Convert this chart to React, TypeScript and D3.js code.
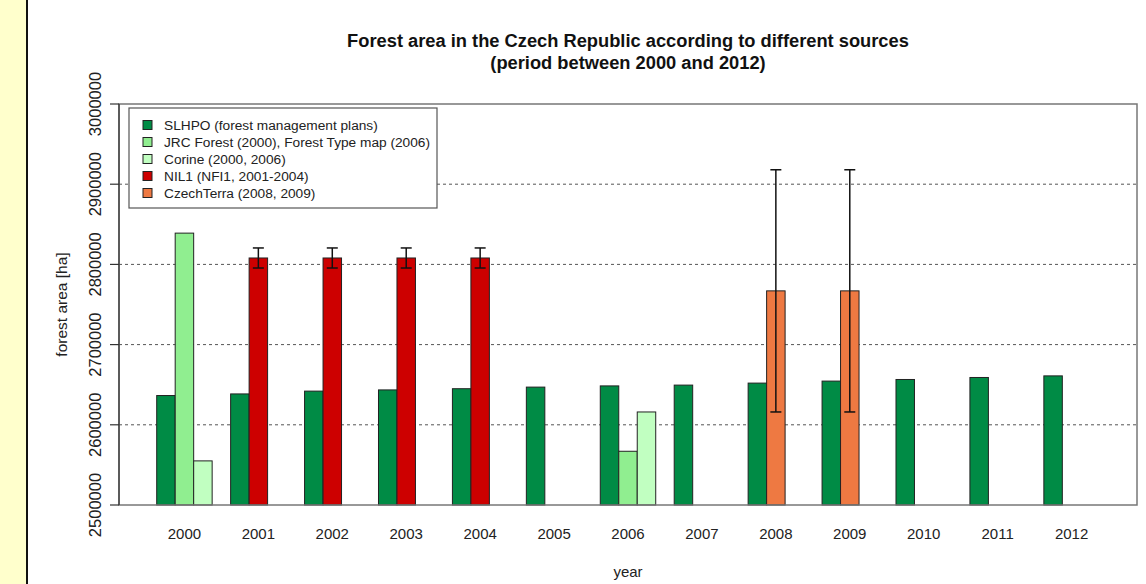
import { useEffect, useRef } from "react";
import * as d3 from "d3";

const years = ["2000", "2001", "2002", "2003", "2004", "2005", "2006", "2007", "2008", "2009", "2010", "2011", "2012"];

const slhpo = [2636500, 2638500, 2642000, 2643500, 2645000, 2647000, 2648500, 2649500, 2652000, 2654500, 2656500, 2659000, 2661000];
const jrc = [2839000, null, null, null, null, null, 2567000, null, null, null, null, null, null];
const corine = [2555000, null, null, null, null, null, 2616000, null, null, null, null, null, null];
const nil1 = [null, 2808000, 2808000, 2808000, 2808000, null, null, null, null, null, null, null, null];
const nil1Err = [null, 12500, 12500, 12500, 12500, null, null, null, null, null, null, null, null];
const czechTerra = [null, null, null, null, null, null, null, null, 2767000, 2767000, null, null, null];
const czechTerraErr = [null, null, null, null, null, null, null, null, 151000, 151000, null, null, null];

const yTicks = [2500000, 2600000, 2700000, 2800000, 2900000, 3000000];
const gridTicks = [2600000, 2700000, 2800000, 2900000];

const legendLabels = [
	"SLHPO (forest management plans)",
	"JRC Forest (2000), Forest Type map (2006)",
	"Corine (2000, 2006)",
	"NIL1 (NFI1, 2001-2004)",
	"CzechTerra (2008, 2009)",
];

const colors = ["#008b45", "#90ee90", "#c1ffc1", "#cd0000", "#ee7942"];

const App = () => {
	const svgRef = useRef<SVGSVGElement>(null);

	useEffect(() => {
		if (!svgRef.current) return;
		const W = 1146;
		const H = 584;
		const box = { left: 119, right: 1137, top: 104, bottom: 505 };
		const font = "'Liberation Sans', Arial, sans-serif";

		const svg = d3.select(svgRef.current).attr("width", W).attr("height", H);
		svg.selectAll("*").remove();

		// yellow strip on the left
		svg.append("rect").attr("x", 0).attr("y", 0).attr("width", 26).attr("height", H).attr("fill", "#ffffcc");
		svg.append("rect").attr("x", 26).attr("y", 0).attr("width", 2).attr("height", H).attr("fill", "#111");
		svg.append("rect").attr("x", 28).attr("y", 0).attr("width", W - 28).attr("height", H).attr("fill", "#fff");

		const x = d3.scaleBand<string>().domain(years).range([box.left, box.right]).paddingInner(0.25).paddingOuter(0.51);
		const slot = d3.scaleBand<number>().domain([0, 1, 2]).range([0, x.bandwidth()]);
		const y = d3.scaleLinear().domain([2500000, 3000000]).range([box.bottom, box.top]);

		// gridlines
		svg
			.append("g")
			.selectAll("line")
			.data(gridTicks)
			.join("line")
			.attr("x1", box.left)
			.attr("x2", box.right)
			.attr("y1", (d) => y(d))
			.attr("y2", (d) => y(d))
			.attr("stroke", "#555")
			.attr("stroke-width", 1)
			.attr("stroke-dasharray", "3,3");

		// bars
		const series = [
			{ values: slhpo, slot: 0, color: colors[0] },
			{ values: jrc, slot: 1, color: colors[1] },
			{ values: corine, slot: 2, color: colors[2] },
			{ values: nil1, slot: 1, color: colors[3] },
			{ values: czechTerra, slot: 1, color: colors[4] },
		];
		series.forEach((s) => {
			const pts = s.values.map((v, i) => ({ year: years[i], v })).filter((d) => d.v !== null) as { year: string; v: number }[];
			svg
				.append("g")
				.selectAll("rect")
				.data(pts)
				.join("rect")
				.attr("x", (d) => x(d.year)! + slot(s.slot)!)
				.attr("width", slot.bandwidth())
				.attr("y", (d) => y(d.v))
				.attr("height", (d) => y(2500000) - y(d.v))
				.attr("fill", s.color)
				.attr("stroke", "#222")
				.attr("stroke-width", 1);
		});

		// error bars
		const errs = [
			{ values: nil1, err: nil1Err },
			{ values: czechTerra, err: czechTerraErr },
		];
		errs.forEach((e) => {
			const pts = e.values
				.map((v, i) => ({ year: years[i], v, err: e.err[i] }))
				.filter((d) => d.v !== null) as { year: string; v: number; err: number }[];
			const g = svg.append("g").attr("stroke", "#111").attr("stroke-width", 1.5);
			pts.forEach((d) => {
				const cx = x(d.year)! + slot(1)! + slot.bandwidth() / 2;
				const y1 = y(d.v + d.err);
				const y0 = y(d.v - d.err);
				g.append("line").attr("x1", cx).attr("x2", cx).attr("y1", y1).attr("y2", y0);
				g.append("line").attr("x1", cx - 5.5).attr("x2", cx + 5.5).attr("y1", y1).attr("y2", y1);
				g.append("line").attr("x1", cx - 5.5).attr("x2", cx + 5.5).attr("y1", y0).attr("y2", y0);
			});
		});

		// plot box
		svg
			.append("rect")
			.attr("x", box.left)
			.attr("y", box.top)
			.attr("width", box.right - box.left)
			.attr("height", box.bottom - box.top)
			.attr("fill", "none")
			.attr("stroke", "#777")
			.attr("stroke-width", 1.5);

		// y axis
		const yAxis = svg.append("g");
		yAxis
			.append("line")
			.attr("x1", box.left)
			.attr("x2", box.left)
			.attr("y1", y(3000000))
			.attr("y2", y(2500000))
			.attr("stroke", "#333")
			.attr("stroke-width", 1.2);
		yAxis
			.selectAll("line.tick")
			.data(yTicks)
			.join("line")
			.attr("class", "tick")
			.attr("x1", box.left - 9)
			.attr("x2", box.left)
			.attr("y1", (d) => y(d))
			.attr("y2", (d) => y(d))
			.attr("stroke", "#333")
			.attr("stroke-width", 1.2);
		yAxis
			.selectAll("text")
			.data(yTicks)
			.join("text")
			.attr("transform", (d) => `translate(100.5, ${y(d)}) rotate(-90)`)
			.attr("text-anchor", "middle")
			.style("font-family", font)
			.style("font-size", "16.5px")
			.attr("fill", "#222")
			.text((d) => String(d));

		// x labels
		svg
			.append("g")
			.selectAll("text")
			.data(years)
			.join("text")
			.attr("x", (d) => x(d)! + x.bandwidth() / 2)
			.attr("y", 539)
			.attr("text-anchor", "middle")
			.style("font-family", font)
			.style("font-size", "15px")
			.attr("fill", "#222")
			.text((d) => d);

		// axis titles
		svg
			.append("text")
			.attr("x", (box.left + box.right) / 2)
			.attr("y", 577)
			.attr("text-anchor", "middle")
			.style("font-family", font)
			.style("font-size", "15px")
			.attr("fill", "#222")
			.text("year");
		svg
			.append("text")
			.attr("transform", `translate(67, ${(box.top + box.bottom) / 2}) rotate(-90)`)
			.attr("text-anchor", "middle")
			.style("font-family", font)
			.style("font-size", "15.5px")
			.attr("fill", "#222")
			.text("forest area [ha]");

		// title
		const cxTitle = (box.left + box.right) / 2;
		["Forest area in the Czech Republic according to different sources", "(period between 2000 and 2012)"].forEach((t, i) => {
			svg
				.append("text")
				.attr("x", cxTitle)
				.attr("y", 47 + i * 22)
				.attr("text-anchor", "middle")
				.style("font-family", font)
				.style("font-size", "18.3px")
				.style("font-weight", "bold")
				.attr("fill", "#111")
				.text(t);
		});

		// legend
		const lg = svg.append("g");
		lg.append("rect")
			.attr("x", 129)
			.attr("y", 108)
			.attr("width", 308)
			.attr("height", 100)
			.attr("fill", "#fff")
			.attr("stroke", "#555")
			.attr("stroke-width", 1.2);
		legendLabels.forEach((label, i) => {
			const cy = 125 + i * 17;
			lg.append("rect")
				.attr("x", 143)
				.attr("y", cy - 4.5)
				.attr("width", 9)
				.attr("height", 9)
				.attr("fill", colors[i])
				.attr("stroke", "#222")
				.attr("stroke-width", 1);
			lg.append("text")
				.attr("x", 164)
				.attr("y", cy + 5)
				.style("font-family", font)
				.style("font-size", "13.7px")
				.attr("fill", "#222")
				.text(label);
		});
	}, []);

	return <svg ref={svgRef} style={{ position: "absolute", left: 0, top: 0 }} />;
};

export default App;
